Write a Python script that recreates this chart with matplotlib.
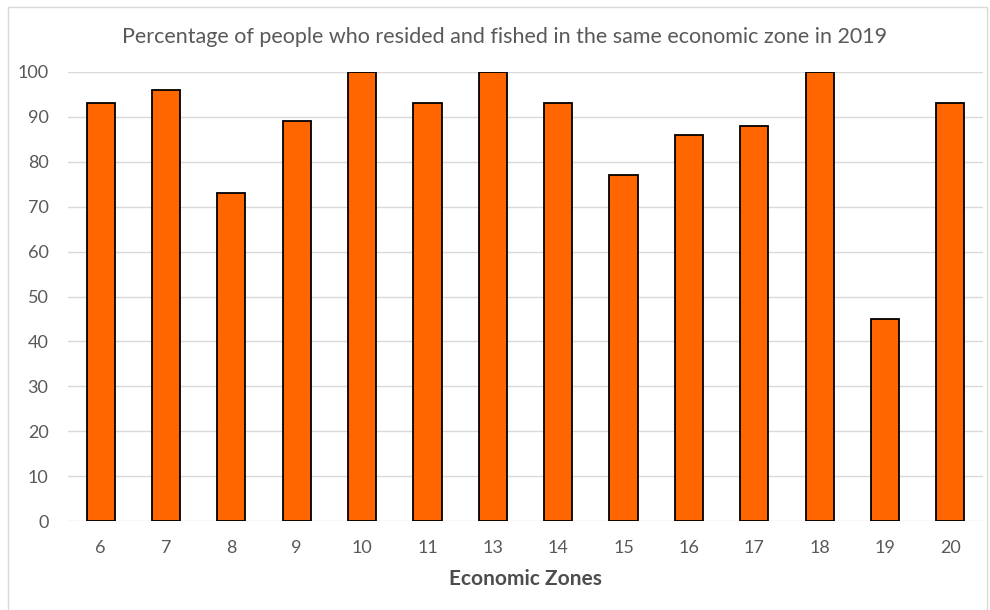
import matplotlib

matplotlib.use("Agg")
import matplotlib.pyplot as plt
from matplotlib.patches import Rectangle

zones = ["6", "7", "8", "9", "10", "11", "13", "14", "15", "16", "17", "18", "19", "20"]
percent = [93, 96, 73, 89, 100, 93, 100, 93, 77, 86, 88, 100, 45, 93]

plt.rcParams["font.family"] = ["Lato", "DejaVu Sans"]
grey = "#595959"

fig = plt.figure(figsize=(9.9, 6.1), dpi=100)
fig.patches.append(Rectangle((8 / 990, -0.01), 979 / 990, 1 - 7 / 610 + 0.01,
                             transform=fig.transFigure, fill=False,
                             edgecolor="#D9D9D9", linewidth=1))
ax = fig.add_axes([68 / 990, 1 - 521 / 610, 915 / 990, 449 / 610])

x = range(len(zones))
ax.bar(x, percent, width=0.43, color="#FF6600", edgecolor="black", linewidth=1.3, zorder=3)

ax.set_xlim(-0.5, len(zones) - 0.5)
ax.set_ylim(0, 100)
ax.set_yticks(range(0, 101, 10))
ax.set_xticks(list(x))
ax.set_xticklabels(zones)
ax.grid(axis="y", color="#D9D9D9", linewidth=1, zorder=0)
for s in ax.spines.values():
    s.set_visible(False)
ax.tick_params(length=0, labelsize=13, colors=grey)
ax.tick_params(axis="y", pad=14)
ax.tick_params(axis="x", pad=14)

ax.set_xlabel("Economic Zones", fontsize=15, fontweight="bold", color="#4D4D4D", labelpad=9)
fig.text(505 / 990, 1 - 37 / 610, "Percentage of people who resided and fished in the same economic zone in 2019",
         ha="center", va="center", fontsize=15.5, color=grey)

fig.savefig("out.png", dpi=100)
